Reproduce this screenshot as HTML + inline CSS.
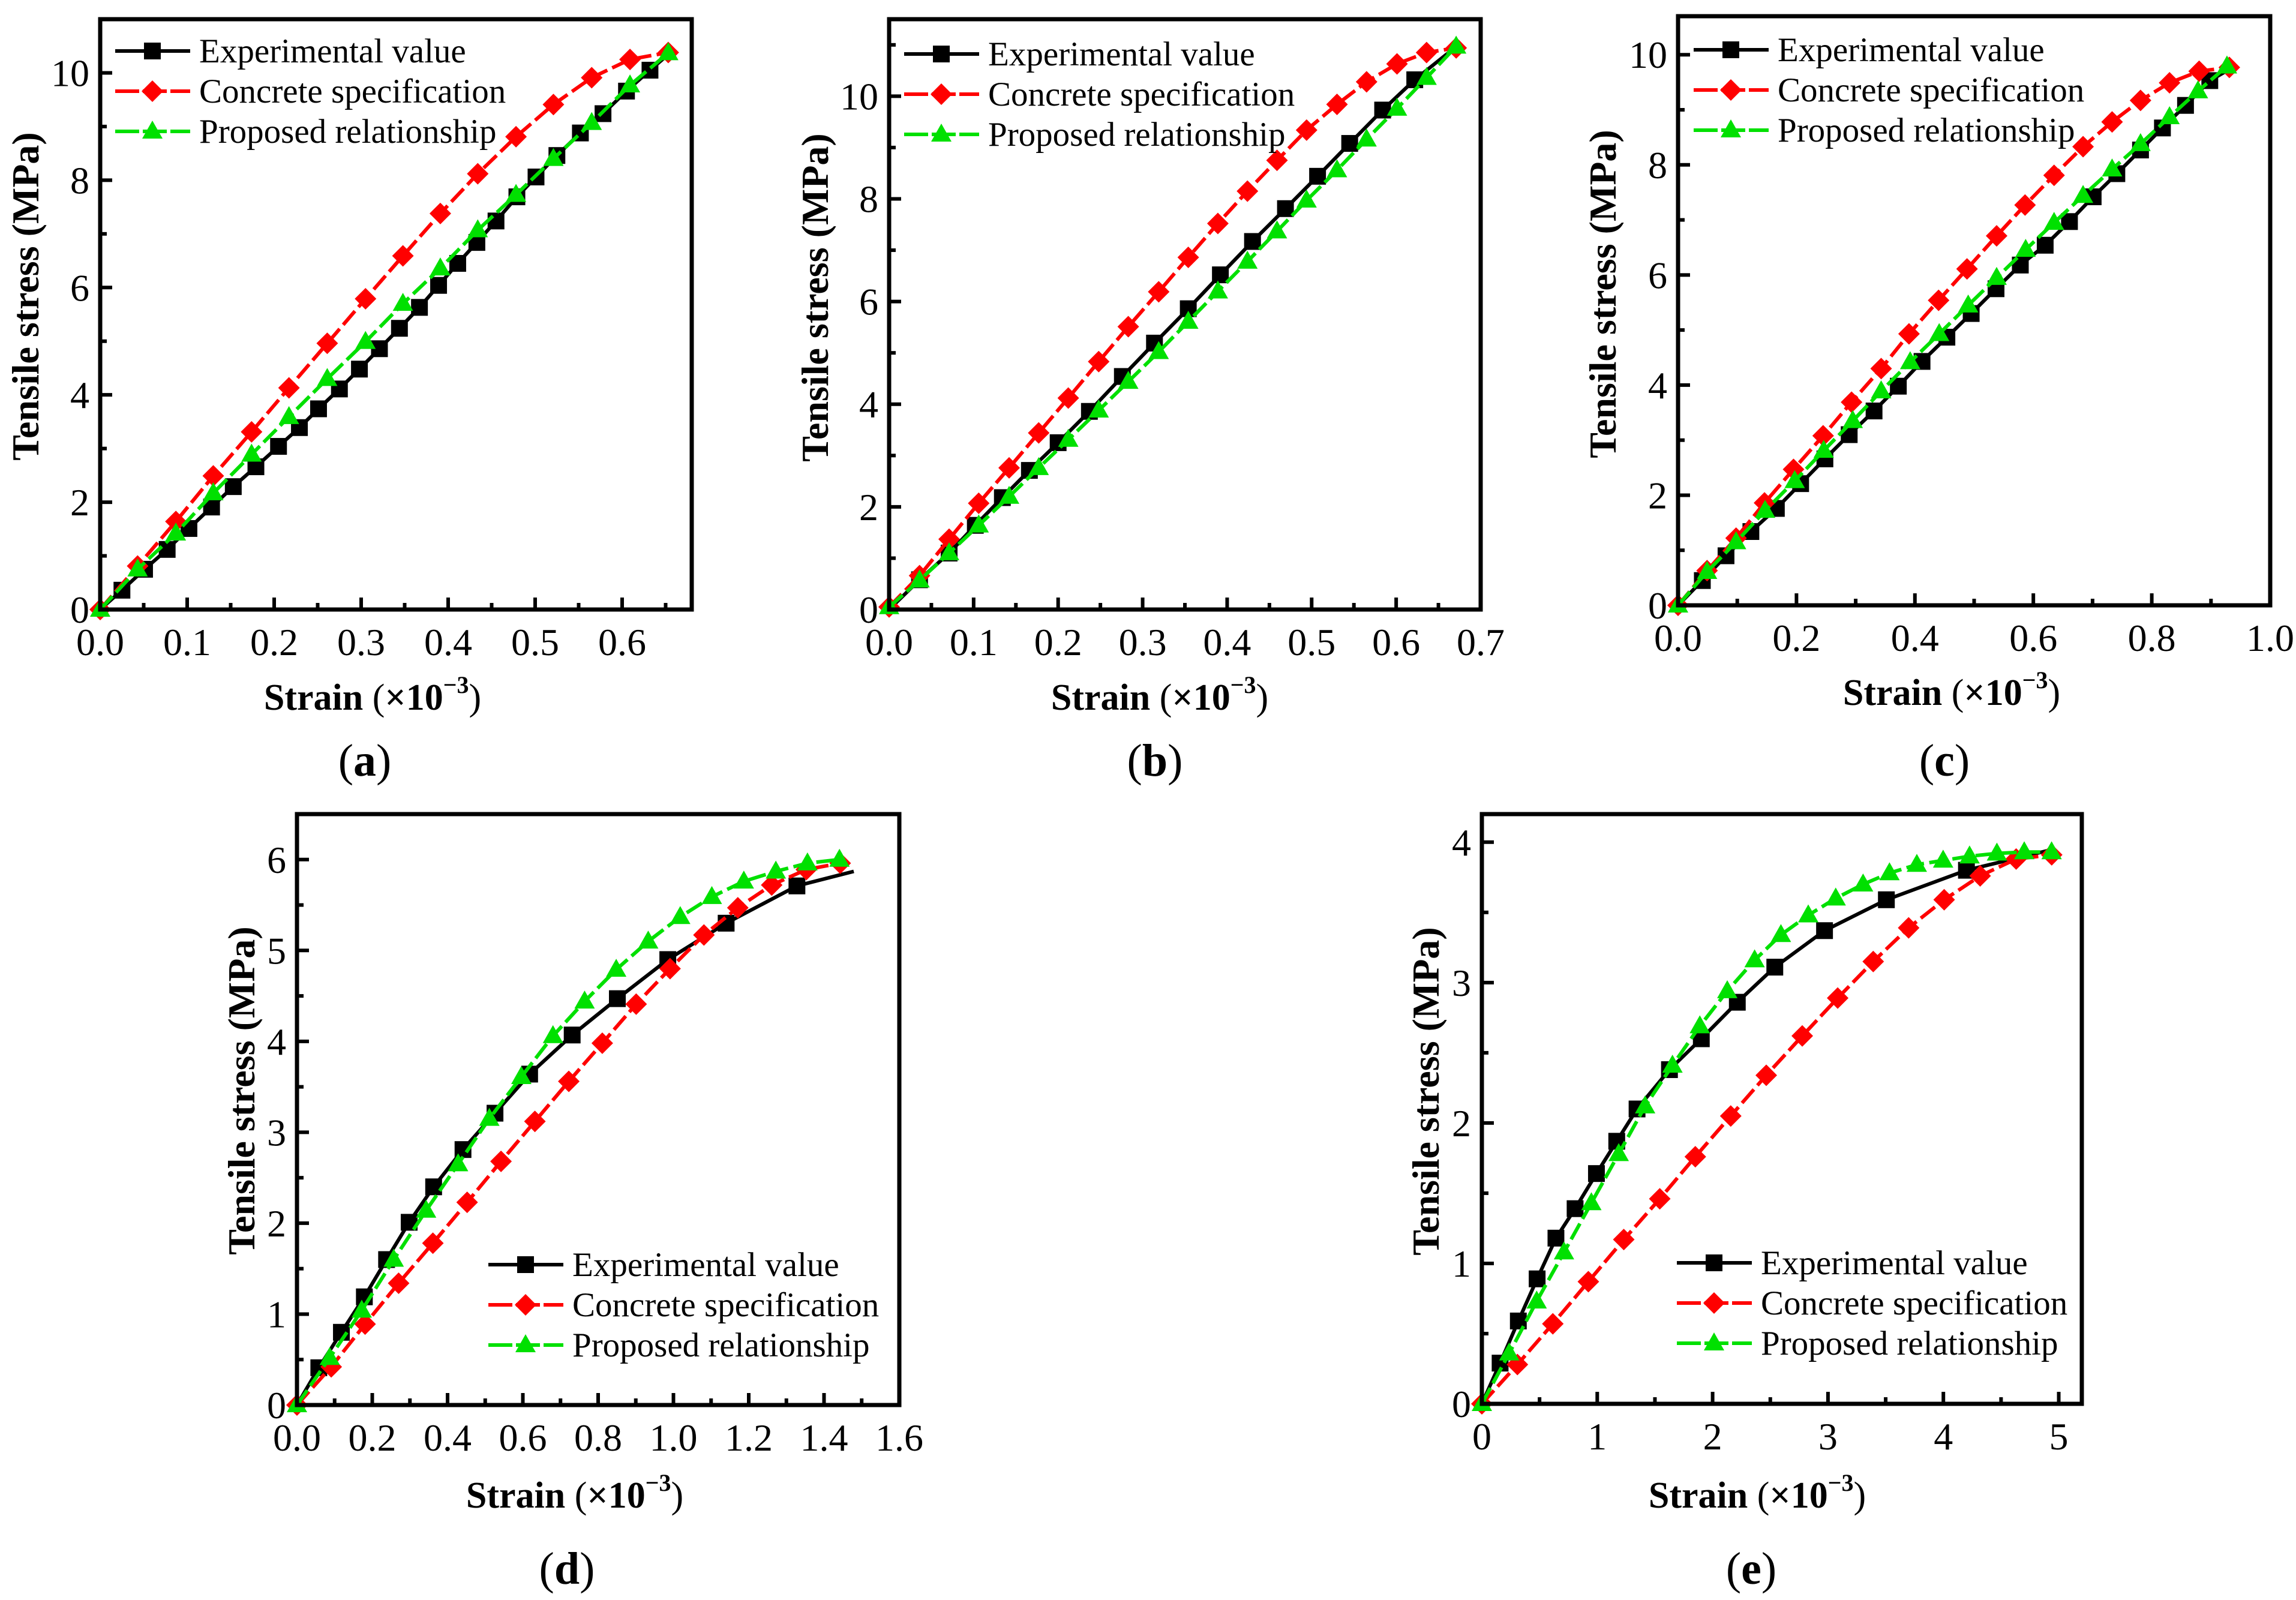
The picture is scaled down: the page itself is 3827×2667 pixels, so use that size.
<!DOCTYPE html>
<html><head><meta charset="utf-8"><style>
html,body{margin:0;padding:0;background:#fff;}
svg{display:block;}
</style></head><body>
<svg id="fig" width="3827" height="2667" viewBox="0 0 3827 2667" xmlns="http://www.w3.org/2000/svg"></svg>
<script>
// Panel (a)
const aExpX=[0,0.025,0.051,0.077,0.102,0.128,0.153,0.179,0.205,0.229,0.251,0.275,0.298,0.321,0.344,0.367,0.389,0.411,0.433,0.455,0.479,0.501,0.525,0.552,0.578,0.605,0.632,0.652];
const aExpY=[0,0.36,0.75,1.12,1.51,1.91,2.29,2.66,3.04,3.39,3.74,4.11,4.48,4.86,5.24,5.63,6.04,6.45,6.84,7.24,7.69,8.06,8.46,8.88,9.24,9.66,10.05,10.33];
const aSpecX=[0,0.043,0.087,0.130,0.174,0.217,0.261,0.305,0.348,0.391,0.434,0.478,0.521,0.565,0.609,0.653];
const aSpecY=[0,0.81,1.64,2.49,3.31,4.13,4.96,5.79,6.59,7.38,8.12,8.81,9.41,9.91,10.25,10.38];
const aPropX=[0,0.043,0.087,0.130,0.174,0.217,0.261,0.305,0.348,0.391,0.434,0.478,0.521,0.565,0.609,0.653];
const aPropY=[0,0.75,1.42,2.17,2.89,3.59,4.30,4.99,5.70,6.36,7.07,7.73,8.40,9.07,9.77,10.37];
const aXTicks=["0.0","0.1","0.2","0.3","0.4","0.5","0.6"];
const aYTicks=["0","2","4","6","8","10"];
// Panel (b)
const bExpX=[0,0.036,0.071,0.102,0.134,0.166,0.200,0.237,0.276,0.314,0.354,0.392,0.430,0.469,0.507,0.545,0.584,0.622,0.669];
const bExpY=[0,0.58,1.10,1.64,2.18,2.71,3.25,3.86,4.54,5.19,5.86,6.52,7.17,7.81,8.44,9.08,9.73,10.32,10.94];
const bSpecX=[0,0.036,0.071,0.106,0.142,0.177,0.212,0.248,0.283,0.319,0.354,0.389,0.424,0.459,0.494,0.530,0.565,0.601,0.636,0.671];
const bSpecY=[0.05,0.66,1.37,2.07,2.76,3.44,4.12,4.83,5.51,6.19,6.86,7.52,8.15,8.75,9.34,9.84,10.28,10.63,10.85,10.94];
const bPropX=[0,0.036,0.071,0.106,0.142,0.177,0.212,0.248,0.283,0.319,0.354,0.389,0.424,0.459,0.494,0.530,0.565,0.601,0.636,0.671];
const bPropY=[0.05,0.57,1.10,1.64,2.20,2.76,3.31,3.88,4.44,5.02,5.61,6.20,6.78,7.37,7.97,8.56,9.16,9.76,10.36,10.97];
const bXTicks=["0.0","0.1","0.2","0.3","0.4","0.5","0.6","0.7"];
const bYTicks=["0","2","4","6","8","10"];
// Panel (c)
const cExpX=[0,0.041,0.081,0.123,0.166,0.207,0.248,0.289,0.331,0.372,0.412,0.454,0.495,0.537,0.578,0.620,0.661,0.701,0.741,0.781,0.818,0.857,0.898,0.940];
const cExpY=[0,0.45,0.90,1.34,1.76,2.21,2.66,3.10,3.53,3.98,4.43,4.87,5.30,5.75,6.18,6.54,6.97,7.42,7.84,8.27,8.67,9.08,9.53,9.79];
const cSpecX=[0,0.049,0.098,0.146,0.195,0.245,0.293,0.343,0.390,0.440,0.488,0.538,0.586,0.635,0.684,0.733,0.781,0.830,0.880,0.931];
const cSpecY=[0,0.63,1.22,1.86,2.47,3.08,3.69,4.30,4.93,5.54,6.11,6.71,7.27,7.81,8.33,8.78,9.17,9.49,9.70,9.77];
const cPropX=[0,0.049,0.098,0.147,0.197,0.246,0.295,0.343,0.392,0.441,0.490,0.538,0.587,0.635,0.684,0.733,0.781,0.830,0.878,0.927];
const cPropY=[0,0.61,1.15,1.72,2.26,2.81,3.35,3.89,4.42,4.93,5.45,5.95,6.46,6.95,7.44,7.92,8.38,8.87,9.34,9.79];
const cXTicks=["0.0","0.2","0.4","0.6","0.8","1.0"];
const cYTicks=["0","2","4","6","8","10"];
// Panel (d)
const dExpX=[0,0.058,0.118,0.179,0.238,0.298,0.363,0.441,0.526,0.618,0.731,0.851,0.985,1.140,1.328,1.479];
const dExpY=[0,0.41,0.80,1.19,1.60,2.01,2.40,2.81,3.21,3.64,4.07,4.47,4.90,5.30,5.71,5.87];
const dSpecX=[0,0.091,0.181,0.270,0.361,0.452,0.542,0.632,0.722,0.811,0.901,0.991,1.081,1.171,1.261,1.353,1.443];
const dSpecY=[0,0.42,0.89,1.34,1.78,2.23,2.68,3.12,3.56,3.98,4.41,4.80,5.17,5.47,5.72,5.89,5.96];
const dPropX=[0,0.087,0.172,0.257,0.343,0.428,0.511,0.596,0.680,0.764,0.848,0.933,1.018,1.102,1.187,1.272,1.356,1.441];
const dPropY=[0,0.52,1.04,1.60,2.14,2.65,3.15,3.61,4.06,4.44,4.79,5.10,5.37,5.59,5.76,5.87,5.96,6.0];
const dXTicks=["0.0","0.2","0.4","0.6","0.8","1.0","1.2","1.4","1.6"];
const dYTicks=["0","1","2","3","4","5","6"];
// Panel (e)
const eExpX=[0,0.158,0.316,0.479,0.642,0.808,0.993,1.169,1.345,1.626,1.902,2.214,2.539,2.970,3.506,4.200,4.956];
const eExpY=[0,0.29,0.59,0.89,1.18,1.39,1.64,1.87,2.10,2.38,2.60,2.86,3.11,3.37,3.59,3.80,3.95];
const eSpecX=[0,0.308,0.615,0.923,1.230,1.542,1.850,2.157,2.465,2.777,3.084,3.392,3.699,4.007,4.319,4.631,4.939];
const eSpecY=[0,0.28,0.57,0.87,1.17,1.46,1.76,2.05,2.34,2.62,2.89,3.15,3.39,3.59,3.76,3.88,3.91];
const ePropX=[0,0.237,0.475,0.712,0.949,1.186,1.415,1.652,1.889,2.127,2.364,2.592,2.829,3.067,3.304,3.533,3.770,3.998,4.227,4.464,4.701,4.938];
const ePropY=[0,0.36,0.73,1.08,1.43,1.78,2.12,2.41,2.69,2.94,3.16,3.34,3.48,3.60,3.70,3.78,3.84,3.87,3.90,3.92,3.93,3.93];
const eXTicks=["0","1","2","3","4","5"];
const eYTicks=["0","1","2","3","4"];

const NS="http://www.w3.org/2000/svg";
const svg=document.getElementById('fig');
function mk(tag,attrs,parent){const e=document.createElementNS(NS,tag);for(const k in attrs)e.setAttribute(k,attrs[k]);if(tag==='text')e.setAttribute('font-family','Liberation Serif, Noto Serif CJK SC, serif');(parent||svg).appendChild(e);return e;}

const panels=[
 {id:'a',L:167,R:1153,T:32,B:1016,xMax:0.68,yMax:11,xStep:0.1,yStep:2,xMinor:2,yMinor:2,xt:aXTicks,yt:aYTicks,
  ex:aExpX,ey:aExpY,sx:aSpecX,sy:aSpecY,px:aPropX,py:aPropY,lgX:192,lgY:85,ytX:42,ytY:494,stX:621,stY:1183,plX:608,plY:1293},
 {id:'b',L:1482,R:2468,T:32,B:1016,xMax:0.7,yMax:11.5,xStep:0.1,yStep:2,xMinor:2,yMinor:2,xt:bXTicks,yt:bYTicks,
  ex:bExpX,ey:bExpY,sx:bSpecX,sy:bSpecY,px:bPropX,py:bPropY,lgX:1507,lgY:90,ytX:1358,ytY:496,stX:1933,stY:1183,plX:1925,plY:1293},
 {id:'c',L:2797,R:3784,T:27,B:1009,xMax:1.0,yMax:10.7,xStep:0.2,yStep:2,xMinor:2,yMinor:2,xt:cXTicks,yt:cYTicks,
  ex:cExpX,ey:cExpY,sx:cSpecX,sy:cSpecY,px:cPropX,py:cPropY,lgX:2823,lgY:83,ytX:2671,ytY:490,stX:3253,stY:1175,plX:3241,plY:1293},
 {id:'d',L:495,R:1499,T:1357,B:2342,xMax:1.6,yMax:6.5,xStep:0.2,yStep:1,xMinor:2,yMinor:2,xt:dXTicks,yt:dYTicks,
  ex:dExpX,ey:dExpY,sx:dSpecX,sy:dSpecY,px:dPropX,py:dPropY,lgX:814,lgY:2108,ytX:402,ytY:1818,stX:958,stY:2513,plX:945,plY:2640},
 {id:'e',L:2470,R:3470,T:1357,B:2340,xMax:5.2,yMax:4.2,xStep:1,yStep:1,xMinor:2,yMinor:2,xt:eXTicks,yt:eYTicks,
  ex:eExpX,ey:eExpY,sx:eSpecX,sy:eSpecY,px:ePropX,py:ePropY,lgX:2795,lgY:2105,ytX:2376,ytY:1819,stX:2929,stY:2513,plX:2919,plY:2640}
];

function square(g,x,y,c){const m=mk('rect',{x:x-14,y:y-14,width:28,height:28,fill:c},g);}
function diamond(g,x,y,c){const m=mk('polygon',{points:`${x},${y-18} ${x+18},${y} ${x},${y+18} ${x-18},${y}`,fill:c},g);}
function tri(g,x,y,c){const m=mk('polygon',{points:`${x},${y-18} ${x+17},${y+12} ${x-17},${y+12}`,fill:c},g);}

panels.forEach(p=>{
  const g=mk('g',{});
  
  
  const X=v=>p.L+(p.R-p.L)*v/p.xMax;
  const Y=v=>p.B-(p.B-p.T)*v/p.yMax;
  const nx=Math.round(p.xMax/p.xStep*p.xMinor+1e-6);
  for(let i=0;i<=nx;i++){
    const v=i*p.xStep/p.xMinor; if(v>p.xMax+1e-9)break;
    const major=i%p.xMinor===0; const x=X(v);
    const t=mk('line',{x1:x,y1:p.B,x2:x,y2:p.B-(major?20:11),stroke:'#000','stroke-width':6},g);
    
  }
  p.xt.forEach((s,i)=>{const t=mk('text',{x:X(i*p.xStep),y:p.B+76,'font-size':64,'text-anchor':'middle',fill:'#000'},g);t.textContent=s;});
  const ny=Math.round(p.yMax/p.yStep*p.yMinor+1e-6);
  for(let i=0;i<=ny;i++){
    const v=i*p.yStep/p.yMinor; if(v>p.yMax+1e-9)break;
    const major=i%p.yMinor===0; const y=Y(v);
    const t=mk('line',{x1:p.L,y1:y,x2:p.L+(major?20:11),y2:y,stroke:'#000','stroke-width':6},g);
    
  }
  p.yt.forEach((s,i)=>{const t=mk('text',{x:p.L-18,y:Y(i*p.yStep)+22,'font-size':64,'text-anchor':'end',fill:'#000'},g);t.textContent=s;});
  const series=[
    {xs:p.ex,ys:p.ey,c:'#000',dash:'',m:square,name:'experimental-value'},
    {xs:p.sx,ys:p.sy,c:'#ff0000',dash:'30 9',m:diamond,name:'concrete-specification'},
    {xs:p.px,ys:p.py,c:'#00e000',dash:'30 9',m:tri,name:'proposed-relationship'}
  ];
  series.forEach((s,si)=>{
    const sg=mk('g',{},g);
    
    
    const pts=s.xs.map((v,i)=>X(v)+','+Y(s.ys[i])).join(' ');
    const l=mk('polyline',{points:pts,fill:'none',stroke:s.c,'stroke-width':6,'stroke-dasharray':s.dash,'stroke-linejoin':'round'},sg);
    
    const n=s.xs.length-(si===0?1:0);
    for(let i=(si===0?1:0);i<n;i++) s.m(sg,X(s.xs[i]),Y(s.ys[i]),s.c);
  });
  const f=mk('rect',{x:p.L,y:p.T,width:p.R-p.L,height:p.B-p.T,fill:'none',stroke:'#000','stroke-width':7},g);
  
  const lg=mk('g',{},g);
  
  
  const labels=['Experimental value','Concrete specification','Proposed relationship'];
  series.forEach((s,i)=>{
    const y=p.lgY+i*67;
    const e=mk('g',{},lg);
    
    
    mk('line',{x1:p.lgX,y1:y,x2:p.lgX+125,y2:y,stroke:s.c,'stroke-width':6,'stroke-dasharray':s.dash?'40 6':''},e);
    s.m(e,p.lgX+62,y,s.c);
    const t=mk('text',{x:p.lgX+140,y:y+19,'font-size':57,fill:'#000'},e);t.textContent=labels[i];
  });
  const yt=mk('text',{x:0,y:0,'font-size':64,'font-weight':'bold','text-anchor':'middle',transform:`translate(${p.ytX+22},${p.ytY}) rotate(-90)`},g);
  yt.textContent='Tensile stress  (MPa)';
  
  const xt=mk('text',{x:p.stX,y:p.stY,'font-size':62,'text-anchor':'middle'},g);
  
  const b1=mk('tspan',{'font-weight':'bold'},xt);b1.textContent='Strain ';
  const b2=mk('tspan',{},xt);b2.textContent='(';
  const b3=mk('tspan',{'font-weight':'bold'},xt);b3.textContent='×10';
  const b4=mk('tspan',{'font-weight':'bold','font-size':40,dy:-28},xt);b4.textContent='−3';
  const b5=mk('tspan',{dy:28},xt);b5.textContent=')';
  const pl=mk('text',{x:p.plX,y:p.plY,'font-size':76,'text-anchor':'middle'},g);
  
  const q1=mk('tspan',{},pl);q1.textContent='(';
  const q2=mk('tspan',{'font-weight':'bold'},pl);q2.textContent=p.id;
  const q3=mk('tspan',{},pl);q3.textContent=')';
});
</script>
</body></html>
